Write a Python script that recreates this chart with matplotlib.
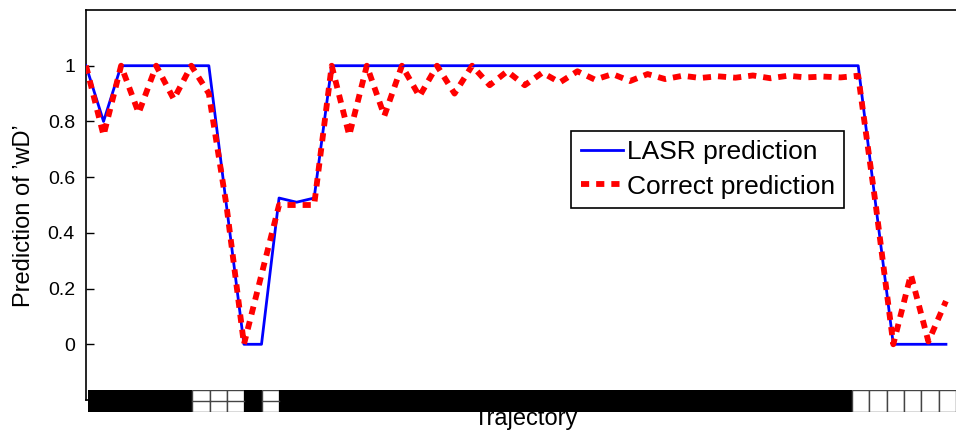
import numpy as np
import matplotlib
matplotlib.use("Agg")
import matplotlib.pyplot as plt
from matplotlib.patches import Rectangle

plt.rcParams['font.family'] = ['Liberation Sans', 'DejaVu Sans']

# ---- data ----
trajectory = np.arange(1, 51)
lasr_prediction = [1.0, 0.8, 1.0, 1.0, 1.0, 1.0, 1.0, 1.0, 0.5, 0.0,
                   0.0, 0.525, 0.51, 0.525] + [1.0] * 31 + [0.5, 0.0, 0.0, 0.0, 0.0]
correct_prediction = [1.0, 0.75, 1.0, 0.83, 1.0, 0.88, 1.0, 0.9, 0.5, 0.0,
                      0.25, 0.5, 0.5, 0.5, 1.0, 0.75, 1.0, 0.82, 1.0, 0.89,
                      1.0, 0.9, 1.0, 0.93, 0.98, 0.93, 0.975, 0.94, 0.98, 0.95,
                      0.97, 0.945, 0.97, 0.952, 0.964, 0.956, 0.962, 0.957, 0.965, 0.955,
                      0.964, 0.958, 0.961, 0.958, 0.964, 0.5, 0.0, 0.25, 0.01, 0.155]
# strip of trajectory cells: 1 = black, 0 = white
strip_cells = [1] * 6 + [0] * 3 + [1] + [0] + [1] * 33 + [0] * 6
yticks = [0, 0.2, 0.4, 0.6, 0.8, 1.0]
ytick_labels = ['0', '0.2', '0.4', '0.6', '0.8', '1']

W, H = 956, 433
fig = plt.figure(figsize=(W / 100, H / 100), dpi=100)

def px(x0, y0, x1, y1):
    return [x0 / W, 1 - y1 / H, (x1 - x0) / W, (y1 - y0) / H]

ax = fig.add_axes(px(86, 10, 966, 400))
ax.plot(trajectory, lasr_prediction, color='#0000FF', lw=2.0, label='LASR prediction', zorder=3)
ax.plot(trajectory, correct_prediction, color='#FF0000', lw=4.2, dashes=(1.4, 1.2),
        dash_capstyle='butt', label='Correct prediction', zorder=4)
ax.set_xlim(1, 1 + 880 / 17.55)
ax.set_ylim(-0.2, 1.2)
ax.set_yticks(yticks)
ax.set_yticklabels(ytick_labels)
ax.set_xticks([])
ax.tick_params(axis='y', direction='in', length=6, width=1, pad=8, labelsize=14, right=True)
for s in ax.spines.values():
    s.set_linewidth(1.2)

leg = ax.legend(loc='upper left', bbox_to_anchor=(571 / W, 1 - 131 / H),
                bbox_transform=fig.transFigure, borderaxespad=0, fontsize=19,
                fancybox=False, framealpha=1, edgecolor='black', handlelength=1.6,
                handletextpad=0.15, borderpad=0.36, labelspacing=0.38)
leg.get_frame().set_linewidth(1.2)

fig.text(24 / W, 1 - 216 / H, "Prediction of \u2019wD\u2019", rotation=90,
         ha='center', va='center', fontsize=17)
fig.text(526 / W, 1 - 425 / H, "Trajectory", ha='center', va='baseline', fontsize=17)

# strip
sax = fig.add_axes(px(88, 390, 956, 412))
sax.set_xlim(0, len(strip_cells))
sax.set_ylim(0, 1)
sax.axis('off')
for i, c in enumerate(strip_cells):
    if c:
        sax.add_patch(Rectangle((i, 0), 1, 1, facecolor='black', edgecolor='none'))
    else:
        sax.add_patch(Rectangle((i, 0), 1, 1, facecolor='white',
                                edgecolor='#444444', lw=1.0))
        if i < len(strip_cells) // 2:
            sax.plot([i, i + 1], [0.5, 0.5], color='#444444', lw=1.0)

fig.savefig('out.png', dpi=100)
